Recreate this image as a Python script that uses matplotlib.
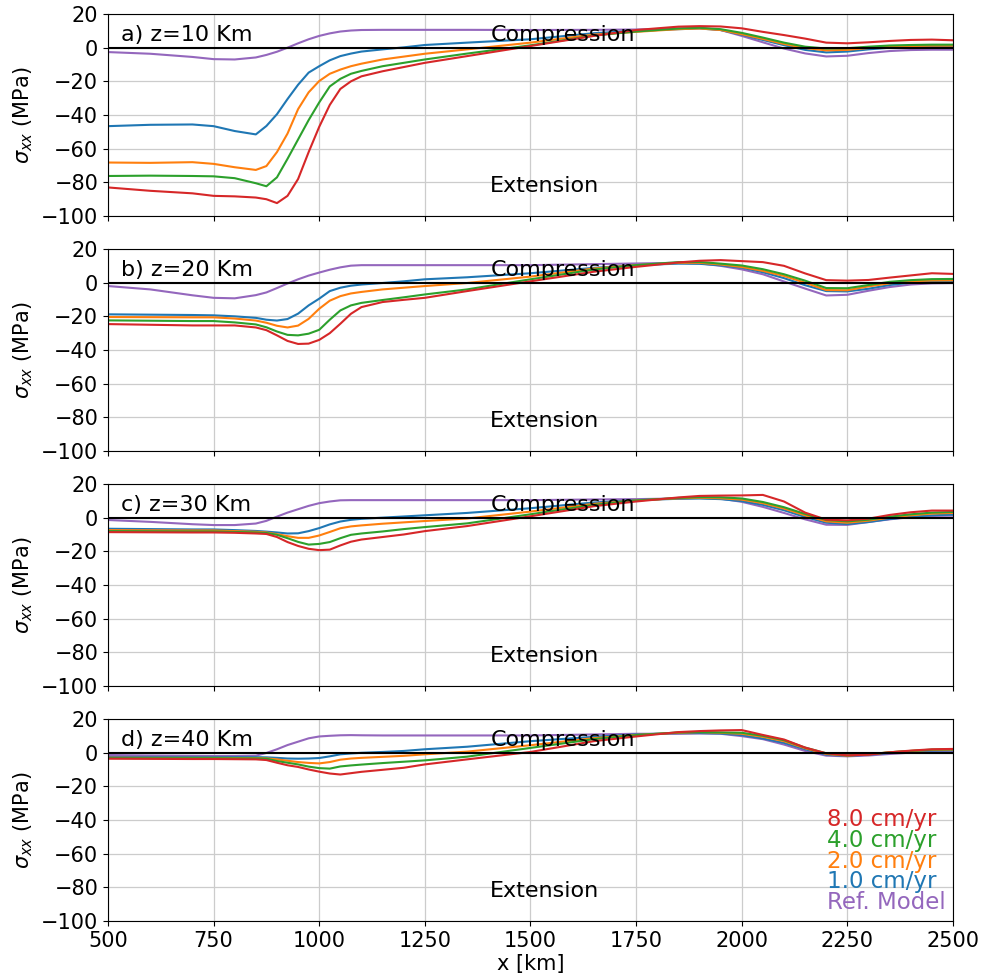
"""Horizontal stress sigma_xx along the profile at four depths."""

import numpy as np
from matplotlib import pyplot as plt

#-----------------------------------------------------------------------------
# Data
#-----------------------------------------------------------------------------

x_km = [500, 600, 700, 750, 800, 850, 875, 900, 925, 950, 975, 1000, 1025,
        1050, 1075, 1100, 1150, 1200, 1250, 1350, 1500, 1650, 1750, 1850,
        1900, 1950, 2000, 2050, 2100, 2150, 2200, 2250, 2300, 2350, 2400,
        2450, 2500]

labels = ['Ref. Model', '1.0 cm/yr', '2.0 cm/yr', '4.0 cm/yr', '8.0 cm/yr']
colors = ['tab:purple', 'tab:blue', 'tab:orange', 'tab:green', 'tab:red']
depths = [10, 20, 30, 40]
panel_letters = ['a', 'b', 'c', 'd']

# z = 10 km
z10_ref = [-2.6, -3.6, -5.5, -6.8, -7.0, -5.8, -4.3, -2.4, 0.0, 2.6, 5.0, 7.0,
           8.5, 9.6, 10.2, 10.5, 10.6, 10.6, 10.6, 10.6, 10.5, 10.6, 10.8,
           11.4, 11.8, 10.5, 7.0, 3.2, -0.5, -3.4, -5.2, -4.8, -3.2, -2.0,
           -1.4, -1.2, -1.2]
z10_v1 = [-46.6, -45.8, -45.6, -46.6, -49.5, -51.5, -46.5, -39.5, -30.5,
          -22.0, -14.8, -11.0, -7.5, -5.0, -3.5, -2.3, -1.0, 0.2, 1.6, 3.0,
          5.0, 8.6, 10.0, 11.0, 11.4, 10.5, 7.7, 4.6, 1.5, -1.3, -2.8, -2.3,
          -1.0, 0.0, 0.3, 0.4, 0.4]
z10_v2 = [-68.2, -68.4, -68.0, -69.0, -71.0, -72.6, -70.3, -62.0, -51.0,
          -36.5, -26.5, -19.8, -15.5, -13.0, -11.0, -9.5, -7.0, -5.3, -3.6,
          -1.0, 3.0, 7.8, 9.4, 11.0, 11.4, 10.5, 8.0, 5.2, 2.2, -0.2, -1.6,
          -1.3, -0.2, 0.6, 1.0, 1.2, 1.2]
z10_v4 = [-76.2, -76.0, -76.2, -76.4, -77.5, -80.5, -82.3, -77.0, -66.0,
          -54.5, -43.0, -32.5, -23.0, -18.5, -15.5, -13.8, -11.0, -9.0, -7.0,
          -3.5, 1.4, 7.2, 9.6, 11.4, 11.8, 11.0, 8.8, 6.0, 3.0, 0.6, -0.5,
          -0.3, 0.6, 1.3, 1.6, 1.8, 1.8]
z10_v8 = [-83.0, -85.0, -86.5, -88.0, -88.3, -89.0, -90.0, -92.3, -88.0,
          -78.0, -62.0, -47.0, -34.0, -24.5, -20.0, -17.0, -14.0, -11.5, -9.0,
          -5.0, 1.0, 7.0, 10.5, 12.5, 12.8, 12.6, 11.5, 9.4, 7.5, 5.4, 3.0,
          2.6, 3.2, 4.0, 4.6, 4.8, 4.4]

# z = 20 km
z20_ref = [-2.0, -4.0, -7.5, -9.0, -9.3, -7.4, -5.8, -3.2, -0.5, 2.0, 4.2,
           6.0, 7.7, 9.1, 10.1, 10.4, 10.4, 10.4, 10.4, 10.4, 10.4, 11.0,
           11.4, 11.8, 11.5, 10.0, 7.9, 5.0, 0.7, -3.5, -7.6, -7.2, -4.8,
           -2.6, -1.1, -0.4, -0.2]
z20_v1 = [-18.8, -19.0, -19.2, -19.4, -20.0, -20.9, -22.0, -22.5, -21.6,
          -18.4, -13.5, -9.5, -5.0, -3.0, -1.8, -1.1, -0.2, 0.8, 2.0, 3.2,
          5.6, 8.8, 10.4, 11.3, 11.2, 10.3, 8.9, 6.2, 2.7, -1.5, -5.0, -5.2,
          -3.6, -1.4, 0.0, 0.6, 0.8]
z20_v2 = [-20.4, -20.5, -20.6, -20.6, -21.3, -22.5, -23.8, -25.6, -26.6,
          -25.5, -21.5, -15.5, -10.7, -8.0, -6.4, -5.5, -4.0, -3.0, -2.0,
          -0.2, 3.6, 8.4, 10.4, 11.8, 11.8, 10.8, 9.3, 7.0, 4.0, 0.0, -4.4,
          -4.5, -2.2, -0.4, 0.8, 1.3, 1.4]
z20_v4 = [-22.4, -22.6, -22.8, -22.8, -23.6, -24.8, -26.5, -29.0, -31.0,
          -31.3, -30.3, -28.0, -22.0, -16.5, -13.5, -12.0, -10.3, -8.7, -7.0,
          -4.0, 2.0, 7.8, 10.4, 12.2, 12.3, 11.3, 10.2, 8.0, 5.0, 1.2, -3.2,
          -3.3, -1.4, 0.5, 1.5, 2.1, 2.2]
z20_v8 = [-24.6, -25.0, -25.4, -25.4, -25.4, -26.6, -28.2, -31.3, -34.6,
          -36.4, -36.2, -34.0, -30.0, -24.4, -18.5, -14.5, -11.5, -10.2, -9.0,
          -5.0, 0.8, 6.5, 9.4, 12.0, 13.0, 13.4, 12.8, 12.2, 10.0, 5.5, 1.5,
          1.2, 1.6, 3.0, 4.3, 5.6, 5.2]

# z = 30 km
z30_ref = [-1.4, -2.5, -3.9, -4.4, -4.4, -3.5, -1.9, 0.6, 3.0, 5.0, 7.0, 8.6,
           9.6, 10.3, 10.4, 10.4, 10.4, 10.4, 10.4, 10.4, 10.4, 10.8, 11.0,
           11.4, 11.6, 11.3, 9.4, 6.4, 2.8, -1.0, -4.2, -4.3, -2.6, -1.0, 0.3,
           1.0, 1.2]
z30_v1 = [-6.6, -6.8, -7.0, -7.0, -7.4, -7.9, -8.3, -8.8, -9.4, -9.3, -8.0,
          -6.2, -4.0, -2.3, -1.3, -0.7, 0.0, 0.7, 1.4, 2.8, 5.6, 9.0, 10.4,
          11.2, 11.4, 11.0, 9.8, 7.6, 4.4, 0.4, -3.0, -3.8, -2.6, -0.8, 0.5,
          1.4, 1.8]
z30_v2 = [-7.4, -7.5, -7.6, -7.6, -8.0, -8.4, -8.8, -9.8, -11.0, -12.0,
          -12.0, -10.6, -8.5, -6.3, -5.2, -4.6, -3.6, -2.8, -2.0, -0.5, 3.6,
          8.2, 10.2, 11.5, 11.8, 11.5, 10.7, 8.6, 5.4, 1.4, -2.2, -3.0, -1.8,
          0.0, 1.4, 2.4, 2.8]
z30_v4 = [-8.0, -8.1, -8.2, -8.2, -8.5, -8.8, -9.1, -10.2, -12.2, -14.4,
          -16.0, -15.6, -14.5, -12.2, -10.2, -9.4, -8.2, -6.8, -5.6, -3.4, 2.0,
          7.6, 10.2, 11.7, 12.2, 12.1, 11.4, 9.3, 6.2, 2.2, -1.4, -2.2, -1.2,
          0.6, 2.0, 3.0, 3.4]
z30_v8 = [-8.6, -8.7, -8.8, -8.8, -9.0, -9.4, -9.7, -11.5, -14.5, -16.8,
          -18.5, -19.3, -19.0, -16.5, -14.3, -13.0, -11.5, -10.0, -8.0, -5.0,
          0.8, 6.8, 9.6, 12.0, 12.9, 13.1, 13.2, 13.5, 9.6, 3.0, -1.2, -1.6,
          -0.6, 1.6, 3.2, 4.2, 4.2]

# z = 40 km
z40_ref = [-1.4, -1.7, -1.9, -2.0, -2.0, -1.8, -0.2, 2.0, 4.5, 6.5, 8.5, 9.6,
           10.0, 10.3, 10.4, 10.3, 10.2, 10.2, 10.2, 10.2, 10.2, 10.8, 11.2,
           11.2, 11.4, 11.2, 9.8, 8.0, 4.8, 1.0, -1.8, -2.2, -1.7, -0.8, 0.0,
           0.5, 0.8]
z40_v1 = [-2.6, -2.6, -2.6, -2.6, -2.7, -2.7, -2.8, -3.1, -3.5, -3.6, -3.5,
          -3.2, -2.2, -1.0, -0.5, -0.1, 0.4, 1.0, 2.0, 3.5, 6.8, 9.4, 10.8,
          11.6, 11.6, 11.4, 10.4, 8.4, 5.8, 2.0, -1.2, -2.0, -1.2, -0.2, 0.6,
          1.2, 1.4]
z40_v2 = [-3.0, -3.1, -3.1, -3.1, -3.2, -3.2, -3.4, -4.0, -4.8, -5.6, -6.1,
          -6.4, -5.6, -4.2, -3.5, -3.1, -2.5, -1.9, -1.0, 0.6, 4.4, 8.6, 10.5,
          11.8, 12.2, 11.8, 11.2, 9.4, 6.8, 2.6, -0.8, -1.8, -1.0, 0.2, 1.0,
          1.6, 1.8]
z40_v4 = [-3.2, -3.3, -3.3, -3.3, -3.4, -3.4, -3.6, -5.0, -6.0, -7.0, -8.3,
          -9.2, -9.5, -8.2, -7.6, -7.1, -6.2, -5.4, -4.6, -2.4, 2.8, 8.0, 10.4,
          12.0, 12.2, 12.0, 11.8, 10.0, 7.4, 3.0, -0.4, -1.6, -1.0, 0.2, 1.0,
          1.8, 2.0]
z40_v8 = [-3.6, -3.7, -3.8, -3.8, -3.9, -4.0, -4.4, -6.0, -7.5, -8.5, -10.0,
          -11.3, -12.4, -13.0, -12.2, -11.4, -10.2, -9.0, -7.0, -4.0, 0.4, 6.8,
          9.6, 12.2, 12.8, 13.2, 13.4, 10.5, 7.8, 3.0, -0.4, -1.6, -1.2, 0.2,
          1.2, 2.0, 2.2]

panels = [
    [z10_ref, z10_v1, z10_v2, z10_v4, z10_v8],
    [z20_ref, z20_v1, z20_v2, z20_v4, z20_v8],
    [z30_ref, z30_v1, z30_v2, z30_v4, z30_v8],
    [z40_ref, z40_v1, z40_v2, z40_v4, z40_v8],
]

#-----------------------------------------------------------------------------
# Plot
#-----------------------------------------------------------------------------

fig, axes = plt.subplots(4, 1, figsize=(9.85, 9.8), dpi=100, sharex=True)
fig.subplots_adjust(left=0.1096, right=0.9675, top=0.9857, bottom=0.0602,
                    hspace=0.163)

x = np.array(x_km)
for ax, series, z, letter in zip(axes, panels, depths, panel_letters):
    ax.grid(True, color='#cccccc', lw=0.9)
    ax.set_axisbelow(True)
    lines = []
    for y, c, lab in zip(series, colors, labels):
        ln, = ax.plot(x, y, color=c, lw=1.5, label=lab)
        lines.append(ln)
    ax.axhline(0, color='k', lw=1.5)
    ax.set_xlim(500, 2500)
    ax.set_ylim(-100, 20)
    ax.set_yticks(np.arange(-100, 21, 20))
    ax.set_xticks(np.arange(500, 2501, 250))
    ax.tick_params(labelsize=15)
    ax.set_ylabel(r'$\sigma_{xx}$ (MPa)', fontsize=15)
    ax.text(530, 4, '%s) z=%d Km' % (letter, z), fontsize=16)
    ax.text(1405, 4, 'Compression', fontsize=16)
    ax.text(1405, -85.5, 'Extension', fontsize=16)

axes[-1].set_xlabel('x [km]', fontsize=15, labelpad=2)
leg = axes[-1].legend(lines[::-1], labels[::-1], loc='lower right',
                      handlelength=0, handletextpad=0, labelspacing=-0.1,
                      frameon=False, fontsize=16.5, labelcolor='linecolor',
                      borderaxespad=0.0, borderpad=0.3)
for h in leg.legend_handles:
    h.set_visible(False)

fig.savefig('out.png', dpi=100)
